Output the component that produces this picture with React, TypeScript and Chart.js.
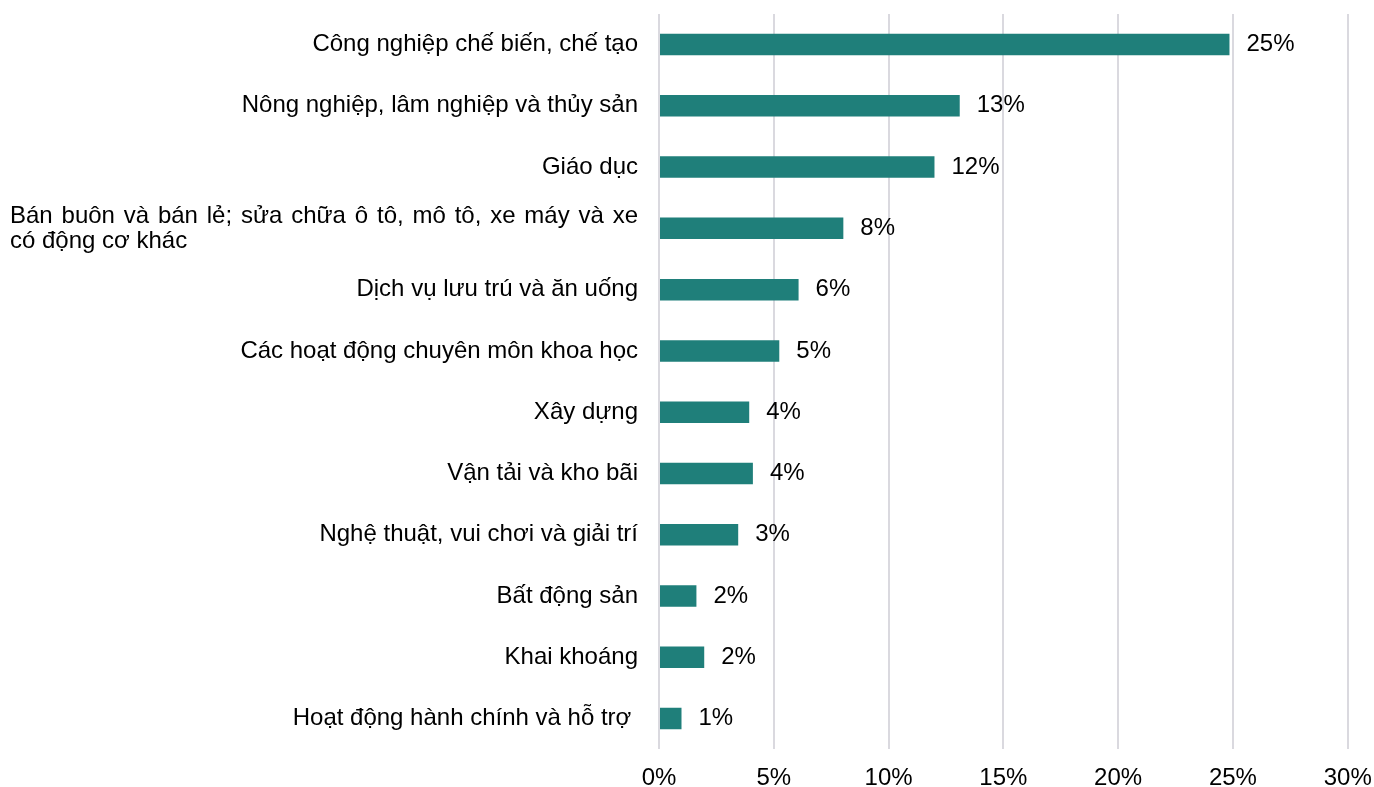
import React, { useEffect, useRef } from 'react';
import { Chart, registerables } from 'chart.js';

Chart.register(...registerables);

const categories: (string | string[])[] = [
  'Công nghiệp chế biến, chế tạo',
  'Nông nghiệp, lâm nghiệp và thủy sản',
  'Giáo dục',
  ['Bán buôn và bán lẻ; sửa chữa ô tô, mô tô, xe máy và xe', 'có động cơ khác'],
  'Dịch vụ lưu trú và ăn uống',
  'Các hoạt động chuyên môn khoa học',
  'Xây dựng',
  'Vận tải và kho bãi',
  'Nghệ thuật, vui chơi và giải trí',
  'Bất động sản',
  'Khai khoáng',
  'Hoạt động hành chính và hỗ trợ ',
];

const shares = [24.85, 13.1, 12.0, 8.03, 6.08, 5.24, 3.93, 4.09, 3.45, 1.63, 1.97, 0.98];

const shareLabels = ['25%', '13%', '12%', '8%', '6%', '5%', '4%', '4%', '3%', '2%', '2%', '1%'];

const xTickValues = [0, 5, 10, 15, 20, 25, 30];

const FONT = '"Liberation Sans", Arial, sans-serif';
const BAR_COLOR = '#1F7F7A';
const GRID_COLOR = '#DAD9DF';

function drawJustified(ctx: CanvasRenderingContext2D, text: string, x: number, y: number, width: number) {
  const words = text.split(' ');
  const wordsW = words.reduce((s, w) => s + ctx.measureText(w).width, 0);
  const gap = words.length > 1 ? (width - wordsW) / (words.length - 1) : 0;
  let cx = x;
  words.forEach((w) => {
    ctx.fillText(w, cx, y);
    cx += ctx.measureText(w).width + gap;
  });
}

const labelPlugin = {
  id: 'customLabels',
  afterDatasetsDraw(chart: any) {
    const ctx = chart.ctx as CanvasRenderingContext2D;
    const yScale = chart.scales.y;
    const area = chart.chartArea;
    const rightEdge = area.left - 21;
    ctx.save();
    ctx.fillStyle = '#000';
    ctx.font = `24px ${FONT}`;
    ctx.textBaseline = 'middle';
    categories.forEach((cat, i) => {
      const y = yScale.getPixelForValue(i);
      if (Array.isArray(cat)) {
        ctx.textAlign = 'left';
        const lh = 25;
        const leftEdge = 10;
        cat.forEach((line, k) => {
          const ly = y + 1 + (k - (cat.length - 1) / 2) * lh;
          if (k < cat.length - 1) {
            drawJustified(ctx, line, leftEdge, ly, rightEdge - leftEdge);
          } else {
            ctx.fillText(line, leftEdge, ly);
          }
        });
      } else {
        ctx.textAlign = 'right';
        ctx.fillText(cat, rightEdge, y);
      }
    });
    const meta = chart.getDatasetMeta(0);
    ctx.textAlign = 'left';
    meta.data.forEach((el: any, i: number) => {
      ctx.fillText(shareLabels[i], el.x + 17, el.y);
    });
    ctx.restore();
  },
};

export default function App() {
  const ref = useRef<HTMLCanvasElement | null>(null);

  useEffect(() => {
    if (!ref.current) return;
    Chart.defaults.font.family = FONT;
    const chart = new Chart(ref.current, {
      type: 'bar',
      data: {
        labels: categories.map((c) => (Array.isArray(c) ? c.join(' ') : c)),
        datasets: [
          {
            data: shares,
            backgroundColor: BAR_COLOR,
            borderWidth: 0,
            barPercentage: 0.351,
            categoryPercentage: 1,
          },
        ],
      },
      options: {
        animation: false,
        responsive: true,
        maintainAspectRatio: false,
        indexAxis: 'y',
        layout: { padding: { top: 13.9, right: 26.3, left: 0, bottom: 0 } },
        plugins: {
          legend: { display: false },
          tooltip: { enabled: false },
          title: { display: false },
        },
        scales: {
          x: {
            min: 0,
            max: 30,
            afterBuildTicks(scale: any) {
              scale.ticks = xTickValues.map((v) => ({ value: v }));
            },
            ticks: {
              callback: (v: any) => `${v}%`,
              color: '#000',
              font: { size: 24, family: FONT },
              padding: 15,
              maxRotation: 0,
              autoSkip: false,
            },
            grid: { color: GRID_COLOR, lineWidth: 2, drawTicks: false },
            border: { display: false },
            afterFit(scale: any) {
              scale.paddingLeft = 0;
              scale.paddingRight = 0;
              scale.height = 37.8;
            },
          },
          y: {
            ticks: { display: false },
            grid: { display: false },
            border: { display: false },
            afterFit(scale: any) {
              scale.width = 659;
              scale.paddingTop = 0;
              scale.paddingBottom = 0;
            },
          },
        },
      },
      plugins: [labelPlugin],
    });
    return () => chart.destroy();
  }, []);

  return (
    <div style={{ position: 'absolute', left: 0, top: 0, width: 1374, height: 787, background: '#fff' }}>
      <canvas ref={ref} />
    </div>
  );
}
